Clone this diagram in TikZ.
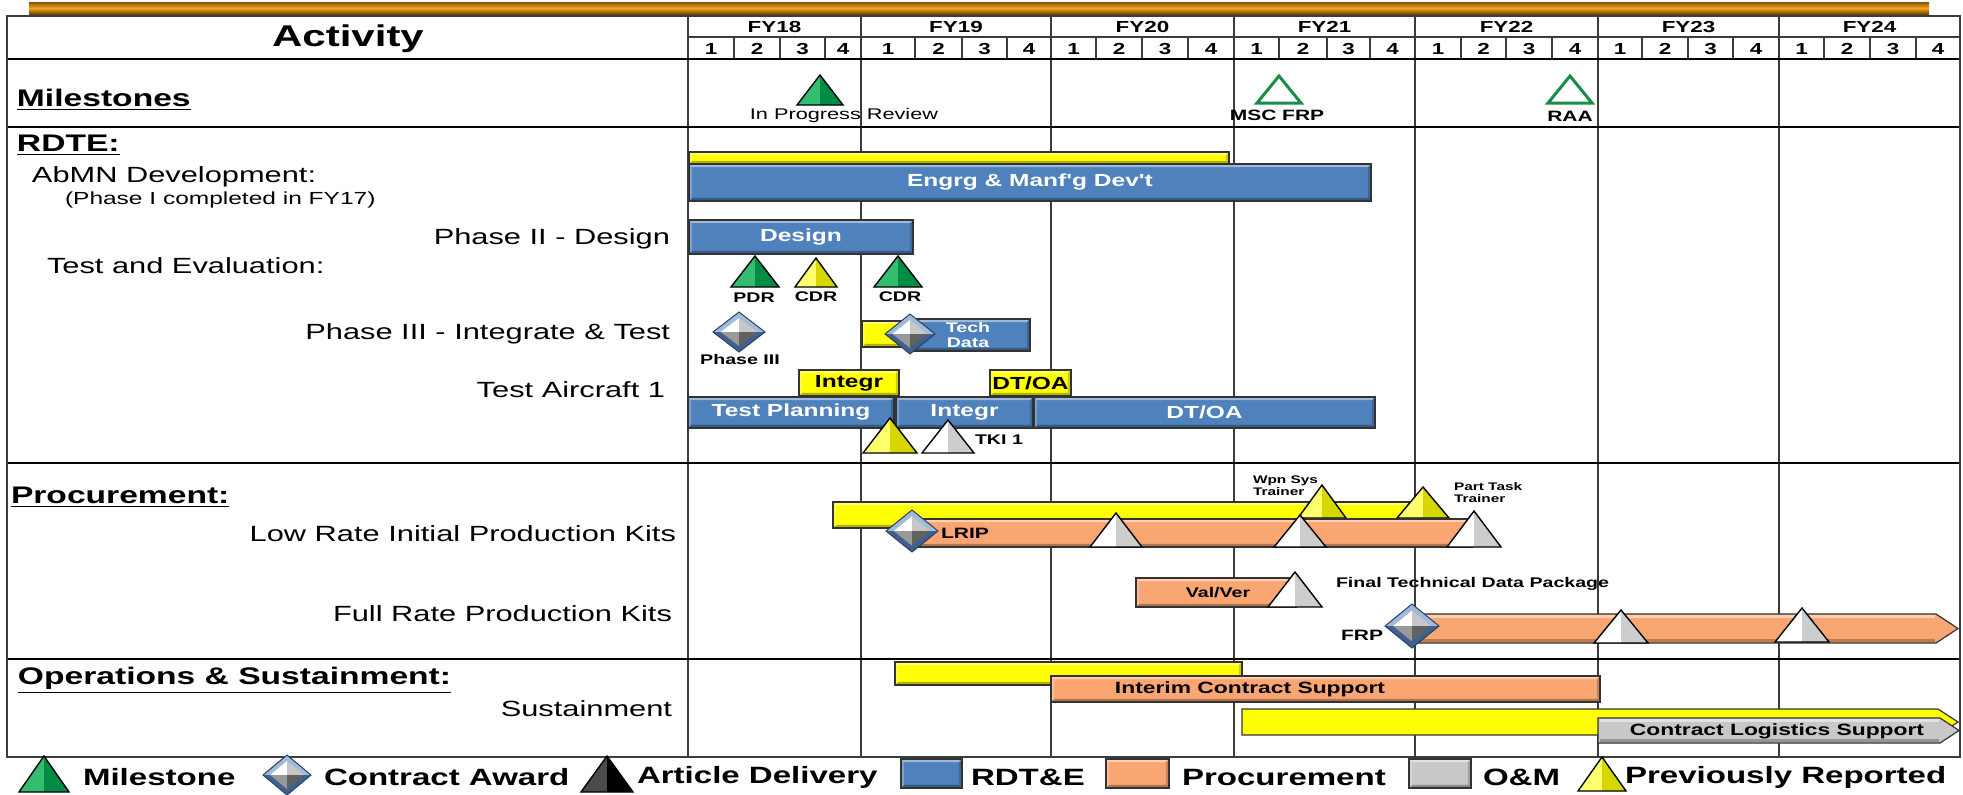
\documentclass[tikz,border=0pt]{standalone}
\usepackage{fontspec}
\setmainfont{Liberation Sans}
\newfontfamily\wf[FakeStretch=1.4]{Liberation Sans}
\usetikzlibrary{fit}

\definecolor{gridc}{RGB}{60,60,60}
\definecolor{rblue}{RGB}{79,129,189}
\definecolor{porange}{RGB}{250,166,115}
\definecolor{omgray}{RGB}{200,200,200}
\definecolor{pyellow}{RGB}{255,255,0}
\definecolor{greenL}{RGB}{50,190,110}
\definecolor{greenR}{RGB}{0,140,68}
\definecolor{yellowL}{RGB}{255,255,110}
\definecolor{yellowR}{RGB}{215,215,0}
\definecolor{whiteL}{RGB}{255,255,255}
\definecolor{whiteR}{RGB}{205,205,205}
\definecolor{blackL}{RGB}{75,75,75}
\definecolor{blackR}{RGB}{0,0,0}
\definecolor{msgreen}{RGB}{25,140,70}
\definecolor{dmdblue}{RGB}{85,130,190}
\definecolor{goldA}{RGB}{130,85,5}
\definecolor{goldB}{RGB}{245,165,30}

\newcommand\fsz[1]{\fontsize{#1}{#1}\selectfont}

% pyramid marker: centre x, apex y, base y, half width, colour set
\newcommand\pyr[5]{%
  \fill[#5L] (#1-#4,#3) -- (#1,#2) -- (#1,#3) -- cycle;
  \fill[#5R] (#1,#2) -- (#1+#4,#3) -- (#1,#3) -- cycle;
  \draw[triedge] (#1-#4,#3) -- (#1,#2) -- (#1+#4,#3) -- cycle;}
% hollow milestone marker
\newcommand\opentri[4]{%
  \draw[line width=1.5pt, msgreen, fill=white, line join=miter] (#1-#4,#3) -- (#1,#2) -- (#1+#4,#3) -- cycle;}
% contract award diamond: centre x, centre y, half width, half height
\newcommand\award[4]{%
  \fill[dmdblue!55!white] (#1-#3,#2) -- (#1,#2-#4) -- (#1+#3,#2) -- cycle;
  \fill[dmdblue!75!black] (#1-#3,#2) -- (#1,#2+#4) -- (#1+#3,#2) -- cycle;
  \fill[white] (#1-0.7*#3,#2) -- (#1,#2-0.7*#4) -- (#1,#2) -- cycle;
  \fill[black!22] (#1,#2-0.7*#4) -- (#1+0.7*#3,#2) -- (#1,#2) -- cycle;
  \fill[black!40] (#1-0.7*#3,#2) -- (#1,#2+0.7*#4) -- (#1,#2) -- cycle;
  \fill[black!62] (#1+0.7*#3,#2) -- (#1,#2+0.7*#4) -- (#1,#2) -- cycle;
  \draw[dmdblue!50!black, line width=0.5pt] (#1-#3,#2) -- (#1,#2-#4) -- (#1+#3,#2) -- (#1,#2+#4) -- cycle;}

\tikzset{
  every node/.style={inner sep=0pt, outer sep=0pt},
  tblframe/.style={line width=1.2pt, black},
  yrline/.style={line width=1pt, gridc},
  qline/.style={line width=0.7pt, gridc},
  triedge/.style={line width=0.7pt, black, line join=miter},
  bevel/.style={path picture={
    \coordinate (pa) at (path picture bounding box.south west);
    \coordinate (pb) at (path picture bounding box.north east);
    \fill[white,opacity=0.45] (pa |- pb) -- (pb) -- ([shift={(-1.6pt,-1.6pt)}]pb) -- ([shift={(1.6pt,-1.6pt)}]pa |- pb) -- cycle;
    \fill[black,opacity=0.3] (pa) -- (pa -| pb) -- ([shift={(-1.6pt,1.6pt)}]pa -| pb) -- ([shift={(1.6pt,1.6pt)}]pa) -- cycle;
    \fill[white,opacity=0.25] (pa) -- ([shift={(1.6pt,1.6pt)}]pa) -- ([shift={(1.6pt,-1.6pt)}]pa |- pb) -- (pa |- pb) -- cycle;
    \fill[black,opacity=0.2] (pa -| pb) -- (pb) -- ([shift={(-1.6pt,-1.6pt)}]pb) -- ([shift={(-1.6pt,1.6pt)}]pa -| pb) -- cycle;
  }},
  gbar/.style={draw=black!80, line width=0.6pt, fill=#1, bevel},
  abar/.style={draw=black!80, line width=0.6pt, fill=#1, line join=miter},
  ttl/.style={font=\wf\bfseries\fsz{15}},
  sect/.style={font=\wf\bfseries\fsz{12}, anchor=west},
  rowlbl/.style={font=\wf\fsz{11}},
  yrlbl/.style={font=\wf\bfseries\fsz{8}},
  bartxt/.style={font=\wf\bfseries\fsz{8.75}},
  wbartxt/.style={bartxt, text=white},
  tag/.style={font=\wf\bfseries\fsz{7}},
  bigtag/.style={font=\wf\bfseries\fsz{7.5}},
  lgd/.style={font=\wf\bfseries\fsz{11.8}, anchor=west},
}

\begin{document}
\begin{tikzpicture}[x=0.5pt,y=-0.5pt]
\useasboundingbox (0,0) rectangle (1963,794);
\fill[white] (0,0) rectangle (1963,794);

% decorative rule above the table
\shade[top color=goldA, bottom color=goldA!85!black, middle color=goldB] (29,2) rectangle (1929,14);

% year columns and quarter header
\foreach \x in {861,1051,1234,1415,1598,1779} \draw[yrline] (\x,16) -- (\x,757);
\draw[yrline] (688,16) -- (688,757);
\draw[yrline] (688,37) -- (1960,37);
\foreach \a/\b [count=\i from 0] in {688/734,734/780,780/825,825/861,861/915,915/962,962/1007,1007/1051,1051/1096,1096/1142,1142/1188,1188/1234,1234/1279,1279/1327,1327/1370,1370/1415,1415/1461,1461/1506,1506/1552,1552/1598,1598/1642,1642/1688,1688/1733,1733/1779,1779/1824,1824/1870,1870/1916,1916/1960}{
  \pgfmathtruncatemacro\qn{mod(\i,4)+1}
  \node[yrlbl] (q\i) at ({(\a+\b)/2},48.5) {\qn};
  \draw[qline] (\b,37) -- (\b,59);
}
\foreach \a/\b/\y in {688/861/18,861/1051/19,1051/1234/20,1234/1415/21,1415/1598/22,1598/1779/23,1779/1960/24}
  \node[yrlbl] (fy\y) at ({(\a+\b)/2},27) {FY\y};

% table rules
\draw[tblframe] (7,59) -- (1960,59);
\draw[tblframe] (7,127) -- (1960,127);
\draw[tblframe] (7,463) -- (1960,463);
\draw[tblframe] (7,659) -- (1960,659);
\draw[line width=1pt, gridc] (7,16) rectangle (1960,757);

% activity column
\node[ttl] (activity) at (348,39) {Activity};
\node[sect] (hms) at (17,100) {\underline{Milestones}};
\node[sect] (hrdte) at (17,145) {\underline{RDTE:}};
\node[rowlbl, anchor=west] (abmn) at (32,177) {AbMN Development:};
\node[font=\wf\fsz{8.75}, anchor=west] (ph1) at (65,200) {(Phase I completed in FY17)};
\node[rowlbl, anchor=east] (ph2) at (670,239) {Phase II - Design};
\node[rowlbl, anchor=west] (tande) at (47,266) {Test and Evaluation:};
\node[rowlbl, anchor=east] (ph3lbl) at (670,334) {Phase III - Integrate \& Test};
\node[rowlbl, anchor=east] (ta1) at (665,390) {Test Aircraft 1};
\node[sect] (hproc) at (11,497) {\underline{Procurement:}};
\node[rowlbl, anchor=east] (lrpk) at (676,534) {Low Rate Initial Production Kits};
\node[rowlbl, anchor=east] (frpk) at (672,614) {Full Rate Production Kits};
\node[sect] (hos) at (18,680) {\underline{Operations \& Sustainment:}};
\node[rowlbl, anchor=east] (sust) at (672,709) {Sustainment};

% milestones
\pyr{820}{75}{105}{23}{green}
\node[font=\wf\fsz{7.75}] (ipr) at (844,115) {In Progress Review};
\opentri{1279}{76}{103}{22}
\node[bigtag] (mscfrp) at (1277,115) {MSC FRP};
\opentri{1570}{76}{103}{22}
\node[bigtag] (raa) at (1570,116) {RAA};

% RDTE
\node[gbar=pyellow, fit={(689,152)(1229,164)}] (edprev) {};
\node[gbar=rblue, fit={(689,164)(1371,201)}] (edbar) {};
\node[wbartxt] (edtxt) at (edbar.center) {Engrg \& Manf'g Dev't};
\node[gbar=rblue, fit={(689,220)(913,254)}] (design) {};
\node[wbartxt] (designtxt) at (design.center) {Design};
\pyr{755}{256}{287}{24}{green}
\pyr{816}{258}{287}{21}{yellow}
\pyr{898}{256}{287}{24}{green}
\node[tag] (pdr) at (754,298) {PDR};
\node[tag] (cdra) at (816,297) {CDR};
\node[tag] (cdrb) at (900,297) {CDR};
\award{739}{332}{26}{20}
\node[tag] (ph3) at (740,359) {Phase III};
\node[gbar=pyellow, fit={(862,321)(915,347)}] (p3prev) {};
\node[gbar=rblue, fit={(910,319)(1030,351)}] (techbar) {};
\node[text=white, align=center, font=\wf\bfseries\fontsize{7}{7.5}\selectfont] (tech) at (968,335) {Tech\\Data};
\award{910}{334}{25}{20}
\node[gbar=pyellow, fit={(799,370)(899,396)}] (integrprev) {};
\node[bartxt] (integrprevtxt) at (integrprev.center) {Integr};
\node[gbar=pyellow, fit={(990,370)(1071,396)}] (dtoaprev) {};
\node[bartxt] (dtoaprevtxt) at (dtoaprev.center) {DT/OA};
\node[gbar=rblue, fit={(688,397)(894,428)}] (tplan) {};
\node[wbartxt] (tplantxt) at (tplan.center) {Test Planning};
\node[gbar=rblue, fit={(896,397)(1033,428)}] (integr) {};
\node[wbartxt] (integrtxt) at (integr.center) {Integr};
\node[gbar=rblue, fit={(1034,397)(1375,428)}] (dtoa) {};
\node[wbartxt] (dtoatxt) at (dtoa.center) {DT/OA};
\pyr{890}{418}{453}{27}{yellow}
\pyr{948}{420}{453}{26}{white}
\node[tag, anchor=west] (tki) at (975,440) {TKI 1};

% procurement: low rate
\node[gbar=pyellow, fit={(833,502)(1421,528)}] (lripprev) {};
\pyr{1322}{485}{518}{24}{yellow}
\pyr{1423}{487}{518}{26}{yellow}
\node[gbar=porange, fit={(910,519)(1472,547)}] (lrip) {};
\pyr{1116}{513}{547}{26}{white}
\pyr{1300}{515}{547}{26}{white}
\pyr{1474}{511}{547}{27}{white}
\award{912}{531}{26}{21}
\node[bigtag, anchor=west] (lriplbl) at (941,533) {LRIP};
\node[font=\wf\bfseries\fontsize{5.5}{6}\selectfont, align=left, anchor=west] (wpn) at (1253,486) {Wpn Sys\\Trainer};
\node[font=\wf\bfseries\fontsize{5.5}{6}\selectfont, align=left, anchor=west] (ptt) at (1454,493) {Part Task\\Trainer};

% procurement: full rate
\node[gbar=porange, fit={(1136,578)(1296,607)}] (valver) {};
\node[tag] (valvertxt) at (1218,593) {Val/Ver};
\pyr{1295}{572}{607}{27}{white}
\node[tag, anchor=west] (ftdp) at (1336,584) {Final Technical Data Package};
\draw[abar=porange] (1412,614) -- (1936,614) -- (1958,628.5) -- (1936,643) -- (1412,643) -- cycle;
\draw[white, opacity=0.45, line width=1.2pt] (1414,616.5) -- (1935,616.5);
\draw[black, opacity=0.25, line width=1.2pt] (1414,640.5) -- (1935,640.5);
\pyr{1621}{610}{643}{27}{white}
\pyr{1802}{608}{642}{27}{white}
\award{1412}{626}{27}{22}
\node[bigtag, anchor=east] (frp) at (1383,635) {FRP};

% operations and sustainment
\node[gbar=pyellow, fit={(895,662)(1242,685)}] (icsprev) {};
\node[gbar=porange, fit={(1051,676)(1600,702)}] (icsbar) {};
\node[font=\wf\bfseries\fsz{8.15}] (ics) at (1250,689) {Interim Contract Support};
\draw[abar=pyellow] (1242,709) -- (1938,709) -- (1958,722) -- (1938,735) -- (1242,735) -- cycle;
\draw[abar=omgray] (1598,718) -- (1940,718) -- (1959,730.5) -- (1940,743) -- (1598,743) -- cycle;
\draw[white, opacity=0.5, line width=1.2pt] (1600,720.5) -- (1939,720.5);
\draw[black, opacity=0.25, line width=1.2pt] (1600,740.5) -- (1939,740.5);
\node[font=\wf\bfseries\fsz{8.15}] (cls) at (1777,731) {Contract Logistics Support};

% legend
\pyr{44}{756}{792}{25}{green}
\node[lgd] (lgms) at (83,777) {Milestone};
\award{287}{775}{24}{20}
\node[lgd] (lgca) at (324,777) {Contract Award};
\pyr{607}{756}{792}{26}{black}
\node[lgd] (lgad) at (637,777) {Article Delivery};
\node[gbar=rblue, fit={(901,759)(962,788)}] (lgbox1) {};
\node[lgd] (lgrdte) at (971,777) {RDT\&E};
\node[gbar=porange, fit={(1106,759)(1169,788)}] (lgbox2) {};
\node[lgd] (lgproc) at (1182,777) {Procurement};
\node[gbar=omgray, fit={(1409,759)(1471,788)}] (lgbox3) {};
\node[lgd] (lgom) at (1483,777) {O\&M};
\pyr{1602}{757}{791}{24}{yellow}
\node[lgd] (lgprev) at (1625,777) {Previously Reported};
\end{tikzpicture}
\end{document}
